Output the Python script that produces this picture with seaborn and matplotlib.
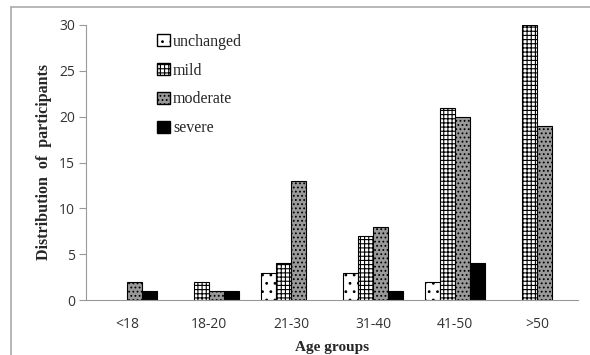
import numpy as np
import pandas as pd
import matplotlib
matplotlib.use("Agg")
import matplotlib.pyplot as plt
import seaborn as sns
from matplotlib.patches import Patch
from matplotlib.lines import Line2D

age_groups = ["<18", "18-20", "21-30", "31-40", "41-50", ">50"]
severity = ["unchanged", "mild", "moderate", "severe"]
unchanged = [0, 0, 3, 3, 2, 0]
mild = [0, 2, 4, 7, 21, 30]
moderate = [2, 1, 13, 8, 20, 19]
severe = [1, 1, 0, 1, 4, 0]

df = pd.DataFrame({
    "age": age_groups * 4,
    "level": [s for s in severity for _ in age_groups],
    "count": unchanged + mild + moderate + severe,
})

sns.set_style("white")
plt.rcParams["hatch.linewidth"] = 0.8

faces = {"unchanged": "white", "mild": "white", "moderate": "#9a9a9a", "severe": "black"}
hatches = {"unchanged": "..", "mild": "++++", "moderate": "....", "severe": ""}

fig = plt.figure(figsize=(5.9, 3.55), dpi=100)
ax = fig.add_axes([86 / 590, 1 - 300 / 355, (578 - 86) / 590, 275 / 355])

sns.barplot(data=df, x="age", y="count", hue="level", order=age_groups,
            hue_order=severity, width=0.73, dodge=True, ax=ax,
            palette=["white"] * 4, edgecolor="black", linewidth=0.8,
            legend=False)

# style each container
for cont, lev in zip(ax.containers, severity):
    for bar in cont:
        bar.set_facecolor(faces[lev])
        bar.set_hatch(hatches[lev])
        bar.set_edgecolor("black")
        if bar.get_height() == 0:
            bar.set_visible(False)

ax.set_ylim(0, 30)
ax.set_xlim(-0.5, 5.5)
ax.set_yticks([0, 5, 10, 15, 20, 25, 30])
for s in ["top", "right"]:
    ax.spines[s].set_visible(False)
ax.spines["left"].set_color("#999999")
ax.spines["bottom"].set_color("#999999")
ax.tick_params(axis="y", left=True, length=5, color="#999999", width=0.8,
               labelsize=10, pad=3, labelcolor="#333333")
ax.tick_params(axis="x", bottom=False, labelsize=10, pad=9, labelcolor="#333333")
for lab in ax.get_xticklabels() + ax.get_yticklabels():
    lab.set_fontfamily("Open Sans")

ax.set_xlabel("Age groups", fontfamily="Liberation Serif", fontweight="bold",
              fontsize=11, labelpad=6)
ax.set_ylabel("Distribution  of  participants", fontfamily="Liberation Serif",
              fontweight="bold", fontsize=11.5, labelpad=5)

handles = [Patch(facecolor=faces[s], edgecolor="black", hatch=hatches[s], label=s)
           for s in severity]
ax.legend(handles=handles, loc="upper left", bbox_to_anchor=(0.115, 1.02),
          frameon=False, handlelength=0.8, handleheight=0.8, handletextpad=0.2,
          labelspacing=0.8, prop={"family": "Liberation Serif", "size": 11.5})

# outer frame of the figure (top and left edges visible)
fx, fy = 11 / 590, 1 - 7 / 355
fig.add_artist(Line2D([fx, 1.0], [fy, fy], transform=fig.transFigure,
                      color="#aaaaaa", linewidth=1.2))
fig.add_artist(Line2D([fx, fx], [0, fy], transform=fig.transFigure,
                      color="#aaaaaa", linewidth=1.2))

fig.savefig("out.png", dpi=100)
